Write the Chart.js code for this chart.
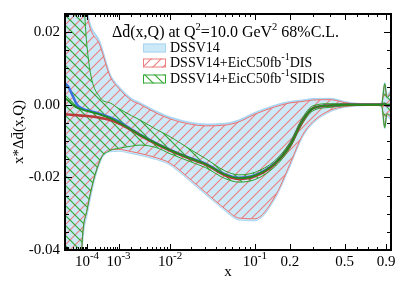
<!DOCTYPE html>
<html>
<head>
<meta charset="utf-8">
<script src="https://cdn.jsdelivr.net/npm/chart.js@4.4.1/dist/chart.umd.min.js"></script>
<style>
    html, body { margin: 0; padding: 0; background: #ffffff; }
</style>
</head>
<body>
<canvas id="grafica" width="407" height="285"></canvas>
<script>
// =====================================================
// DATOS
// =====================================================

// valores de x comunes a todas las curvas
const xs = [6.3e-6, 1e-5, 2e-5, 3.5e-5, 6e-5, 1e-4, 3e-4, 6e-4, 1e-3, 2e-3, 3e-3, 6e-3, 1e-2,
    0.02, 0.03, 0.05, 0.07, 0.1, 0.15, 0.2, 0.25, 0.3, 0.4, 0.5, 0.6, 0.7, 0.8, 0.85, 0.885, 0.91, 0.96];

// curvas centrales
const dssvCentral = [0.0058, 0.0052, 0.0025, 0.0000, -0.0010, -0.0015, -0.0025, -0.0035, -0.0046, -0.0068, -0.0082, -0.0106, -0.0124,
    -0.0148, -0.0162, -0.0191, -0.0201, -0.0194, -0.0161, -0.0111, -0.0045, -0.0010, -0.0002, 0, 0, 0, 0, 0, 0.0003, -0.0003, 0];
const disCentral = [-0.0027, -0.0027, -0.0028, -0.0029, -0.0030, -0.0031, -0.0036, -0.0042, -0.0051, -0.0070, -0.0084, -0.0108, -0.0126,
    -0.0150, -0.0164, -0.0194, -0.0204, -0.0197, -0.0163, -0.0113, -0.0046, -0.0010, -0.0002, 0, 0, 0, 0, 0, 0.0002, -0.0002, 0];
const sidisCentral = [0.0018, 0.0012, 0.0000, -0.0008, -0.0013, -0.0017, -0.0027, -0.0037, -0.0048, -0.0069, -0.0083, -0.0107, -0.0125,
    -0.0149, -0.0163, -0.0192, -0.0202, -0.0195, -0.0162, -0.0112, -0.0045, -0.0010, -0.0002, 0, 0, 0, 0, 0, 0.0003, 0.0000, 0];

// bandas de incertidumbre (68% C.L.)
const dssvUpper = [0.3, 0.22, 0.12, 0.07, 0.04, 0.026, 0.017, 0.0082, 0.005, 0.0016, 0.0005, -0.0019, -0.0035,
    -0.0050, -0.0054, -0.0052, -0.0043, -0.0022, -0.0002, 0.0008, 0.0012, 0.0016, 0.0017, 0.0008, 0.0003, 0.0002, 0.0002, 0.0004, 0.006, 0.0025, 0.004];
const dssvLower = [-0.4, -0.3, -0.15, -0.08, -0.04, -0.030, -0.0155, -0.0128, -0.0127, -0.0133, -0.0138, -0.0150, -0.0165,
    -0.0212, -0.0245, -0.0290, -0.0316, -0.0318, -0.0258, -0.0168, -0.0088, -0.0050, -0.0018, -0.0006, -0.0002, -0.0001, -0.0001, -0.0004, -0.0065, -0.003, -0.004];
const disUpper = [0.3, 0.22, 0.12, 0.068, 0.039, 0.025, 0.0162, 0.0078, 0.0046, 0.0012, 0.0001, -0.0023, -0.0039,
    -0.0054, -0.0058, -0.0056, -0.0047, -0.0026, -0.0006, 0.0005, 0.0009, 0.0013, 0.0014, 0.0006, 0.0002, 0.0001, 0.0001, 0.0003, 0.0055, 0.0022, 0.0035];
const disLower = [-0.4, -0.3, -0.15, -0.078, -0.039, -0.029, -0.0151, -0.0124, -0.0123, -0.0129, -0.0134, -0.0146, -0.0161,
    -0.0208, -0.0241, -0.0286, -0.0312, -0.0314, -0.0254, -0.0164, -0.0085, -0.0047, -0.0015, -0.0005, -0.0002, -0.0001, -0.0001, -0.0003, -0.006, -0.0027, -0.0035];
const sidisUpper = [0.3, 0.22, 0.12, 0.068, 0.039, 0.016, 0.002, 0.0005, -0.001, -0.003, -0.0042, -0.0068, -0.0088,
    -0.0125, -0.0148, -0.0182, -0.0193, -0.0186, -0.0154, -0.0104, -0.0037, -0.0003, 0.0003, 0.0003, 0.0002, 0.0002, 0.0002, 0.0004, 0.0058, 0.002, 0.003];
const sidisLower = [-0.4, -0.3, -0.15, -0.078, -0.039, -0.029, -0.0153, -0.0126, -0.0120, -0.0114, -0.0111, -0.0118, -0.0135,
    -0.0158, -0.0173, -0.0203, -0.0213, -0.0206, -0.0171, -0.0120, -0.0053, -0.0017, -0.0007, -0.0003, -0.0002, -0.0002, -0.0002, -0.0004, -0.0063, -0.0025, -0.003];

// ejes y marcas
const xMin = 6.3e-6;
const xMax = 0.9615;
const yMin = -0.04;
const yMax = 0.025;
const yTicks = [-0.04, -0.02, 0, 0.02];
const xTickValues = [1e-4, 1e-3, 1e-2, 0.1, 0.2, 0.5, 0.9];
const xTickBase = ['10', '10', '10', '10', '0.2', '0.5', '0.9'];
const xTickExp = ['-4', '-3', '-2', '-1', '', '', ''];
const xMinorTicks = [7e-6, 8e-6, 9e-6, 1e-5, 2e-5, 3e-5, 4e-5, 5e-5, 6e-5, 7e-5, 8e-5, 9e-5,
    2e-4, 3e-4, 4e-4, 5e-4, 6e-4, 7e-4, 8e-4, 9e-4,
    2e-3, 3e-3, 4e-3, 5e-3, 6e-3, 7e-3, 8e-3, 9e-3,
    0.02, 0.03, 0.04, 0.05, 0.06, 0.07, 0.08, 0.09,
    0.3, 0.4, 0.6, 0.7, 0.8];
const yMinorTicks = [-0.035, -0.03, -0.025, -0.015, -0.01, -0.005, 0.005, 0.01, 0.015];

const legendLabels = ['DSSV14', 'DSSV14+EicC50fb', 'DSSV14+EicC50fb'];
const legendTails = ['', 'DIS', 'SIDIS'];

const SERIF = "'Liberation Serif', 'Times New Roman', serif";

// =====================================================
// ESCALA X (potencia, como la de la figura)
// =====================================================
const POT = 0.215;

class PotenciaScale extends Chart.LinearScale {
    getPixelForValue(value) {
        if (value === null || value === undefined || isNaN(value)) return NaN;
        const a = Math.pow(this.min, POT);
        const b = Math.pow(this.max, POT);
        return this.getPixelForDecimal((Math.pow(value, POT) - a) / (b - a));
    }
    getValueForPixel(pixel) {
        const a = Math.pow(this.min, POT);
        const b = Math.pow(this.max, POT);
        return Math.pow(a + this.getDecimalForPixel(pixel) * (b - a), 1 / POT);
    }
}
PotenciaScale.id = 'potencia';
PotenciaScale.defaults = Chart.LinearScale.defaults;
Chart.register(PotenciaScale);

// =====================================================
// RAYADOS
// =====================================================
function rayado(color, dir, s, lw) {
    const c = document.createElement('canvas');
    c.width = s; c.height = s;
    const g = c.getContext('2d');
    g.strokeStyle = color;
    g.lineWidth = lw;
    g.beginPath();
    if (dir === '/') {
        g.moveTo(0, s); g.lineTo(s, 0);
        g.moveTo(-1, 1); g.lineTo(1, -1);
        g.moveTo(s - 1, s + 1); g.lineTo(s + 1, s - 1);
    } else {
        g.moveTo(0, 0); g.lineTo(s, s);
        g.moveTo(s - 1, -1); g.lineTo(s + 1, 1);
        g.moveTo(-1, s - 1); g.lineTo(1, s + 1);
    }
    g.stroke();
    return g.createPattern(c, 'repeat');
}

const colorDssvFill = '#cde9f7';
const colorDssvBorde = '#a9d6f2';
const patronDis = rayado('#ee7d7d', '/', 10, 1.1);
const patronSidis = rayado('#34a834', '\\', 10, 1.2);

const pts = arr => xs.map((x, i) => ({ x, y: arr[i] }));

const banda = { pointRadius: 0, cubicInterpolationMode: 'monotone' };

// =====================================================
// PLUGIN: marco, marcas, etiquetas x y leyenda
// =====================================================
function textoRico(ctx, partes, x, y, size, supSize, align) {
    let w = 0;
    partes.forEach(p => {
        ctx.font = (p.sup ? supSize : size) + 'px ' + SERIF;
        p.w = ctx.measureText(p.t).width;
        w += p.w;
    });
    let cx = align === 'center' ? x - w / 2 : x;
    partes.forEach(p => {
        ctx.font = (p.sup ? supSize : size) + 'px ' + SERIF;
        ctx.fillText(p.t, cx, p.sup ? y - size * 0.38 : y);
        cx += p.w;
    });
}

const marcoPlugin = {
    id: 'marco',
    afterDraw(chart) {
        const { ctx, chartArea: a, scales } = chart;
        const sx = scales.x, sy = scales.y;
        ctx.save();
        ctx.strokeStyle = '#000';
        ctx.lineWidth = 1;
        const linea = (x1, y1, x2, y2) => { ctx.beginPath(); ctx.moveTo(x1, y1); ctx.lineTo(x2, y2); ctx.stroke(); };

        xTickValues.forEach(v => {
            const p = Math.round(sx.getPixelForValue(v)) + 0.5;
            linea(p, a.bottom, p, a.bottom - 6);
            linea(p, a.top, p, a.top + 6);
        });
        xMinorTicks.forEach(v => {
            const p = Math.round(sx.getPixelForValue(v)) + 0.5;
            linea(p, a.bottom, p, a.bottom - 3);
            linea(p, a.top, p, a.top + 3);
        });
        yTicks.forEach(v => {
            const p = Math.round(sy.getPixelForValue(v)) + 0.5;
            linea(a.left, p, a.left + 7, p);
            linea(a.right, p, a.right - 7, p);
        });
        yMinorTicks.forEach(v => {
            const p = Math.round(sy.getPixelForValue(v)) + 0.5;
            linea(a.left, p, a.left + 4, p);
            linea(a.right, p, a.right - 4, p);
        });

        ctx.lineWidth = 2;
        ctx.strokeRect(a.left, a.top, a.right - a.left, a.bottom - a.top);

        // etiquetas del eje x
        ctx.fillStyle = '#000';
        ctx.textBaseline = 'middle';
        xTickValues.forEach((v, i) => {
            const p = sx.getPixelForValue(v);
            const partes = [{ t: xTickBase[i] }];
            if (xTickExp[i]) partes.push({ t: xTickExp[i], sup: true });
            textoRico(ctx, partes, p, 262, 15, 11, 'center');
        });

        // leyenda
        textoRico(ctx, [{ t: 'Δd\u0304(x,Q) at Q' }, { t: '2', sup: true }, { t: '=10.0 GeV' }, { t: '2', sup: true }, { t: ' 68%C.L.' }],
            112, 33, 16, 10.5, 'left');

        const filas = [48, 63, 79];
        const fondos = [colorDssvFill, patronDis, patronSidis];
        const bordes = [colorDssvBorde, '#ee7d7d', '#34a834'];
        filas.forEach((yc, i) => {
            ctx.fillStyle = fondos[i];
            ctx.fillRect(143, yc - 4.5, 23, 9);
            ctx.strokeStyle = bordes[i];
            ctx.lineWidth = 1;
            ctx.strokeRect(143.5, yc - 4, 22, 8);
            ctx.fillStyle = '#000';
            const partes = [{ t: legendLabels[i] }];
            if (legendTails[i]) {
                partes.push({ t: '-1', sup: true });
                partes.push({ t: legendTails[i] });
            }
            textoRico(ctx, partes, 170, yc, 14, 10, 'left');
        });
        ctx.restore();
    }
};

// =====================================================
// GRÁFICA
// =====================================================
const ctx = document.getElementById('grafica').getContext('2d');

new Chart(ctx, {
    type: 'line',
    data: {
        datasets: [
            { ...banda, label: 'DSSV14', data: pts(dssvUpper), fill: 1, backgroundColor: colorDssvFill, borderColor: colorDssvBorde, borderWidth: 1.8, order: 10 },
            { ...banda, label: 'DSSV14 low', data: pts(dssvLower), fill: false, borderColor: colorDssvBorde, borderWidth: 1.8, order: 10 },
            { ...banda, label: 'DIS', data: pts(disUpper), fill: 3, backgroundColor: patronDis, borderColor: '#ec7070', borderWidth: 1, order: 8 },
            { ...banda, label: 'DIS low', data: pts(disLower), fill: false, borderColor: '#ec7070', borderWidth: 1, order: 8 },
            { ...banda, label: 'SIDIS', data: pts(sidisUpper), fill: 5, backgroundColor: patronSidis, borderColor: '#2ea02e', borderWidth: 1, order: 6 },
            { ...banda, label: 'SIDIS low', data: pts(sidisLower), fill: false, borderColor: '#2ea02e', borderWidth: 1, order: 6 },
            { ...banda, label: 'DSSV14 central', data: pts(dssvCentral), fill: false, borderColor: '#3d6fe0', borderWidth: 2.5, order: 4 },
            { ...banda, label: 'DIS central', data: pts(disCentral), fill: false, borderColor: '#b83a3a', borderWidth: 2.6, order: 3 },
            { ...banda, label: 'SIDIS central', data: pts(sidisCentral), fill: false, borderColor: '#1f8c1f', borderWidth: 1.8, order: 2 }
        ]
    },
    options: {
        responsive: false,
        animation: false,
        events: [],
        layout: { padding: { top: 11, right: 16, left: 0, bottom: 0 } },
        plugins: {
            legend: { display: false },
            tooltip: { enabled: false }
        },
        scales: {
            x: {
                type: 'potencia',
                min: xMin,
                max: xMax,
                afterBuildTicks: s => { s.ticks = xTickValues.map(v => ({ value: v })); },
                afterFit: s => { s.height = 35; },
                grid: { display: false, drawTicks: false },
                border: { display: false },
                ticks: { display: false },
                title: { display: true, text: 'x', color: '#000', font: { family: SERIF, size: 15 }, padding: { top: 0, bottom: 4 } }
            },
            y: {
                min: yMin,
                max: yMax,
                afterBuildTicks: s => { s.ticks = yTicks.map(v => ({ value: v })); },
                afterFit: s => { s.width = 65; },
                grid: { display: false, drawTicks: false },
                border: { display: false },
                ticks: { color: '#000', font: { family: SERIF, size: 15 }, padding: 5, callback: v => Number(v).toFixed(2) },
                title: { display: true, text: 'x*Δd\u0304(x,Q)', color: '#000', font: { family: SERIF, size: 15 }, padding: { top: 10, bottom: 0 } }
            }
        }
    },
    plugins: [marcoPlugin]
});
</script>
</body>
</html>
